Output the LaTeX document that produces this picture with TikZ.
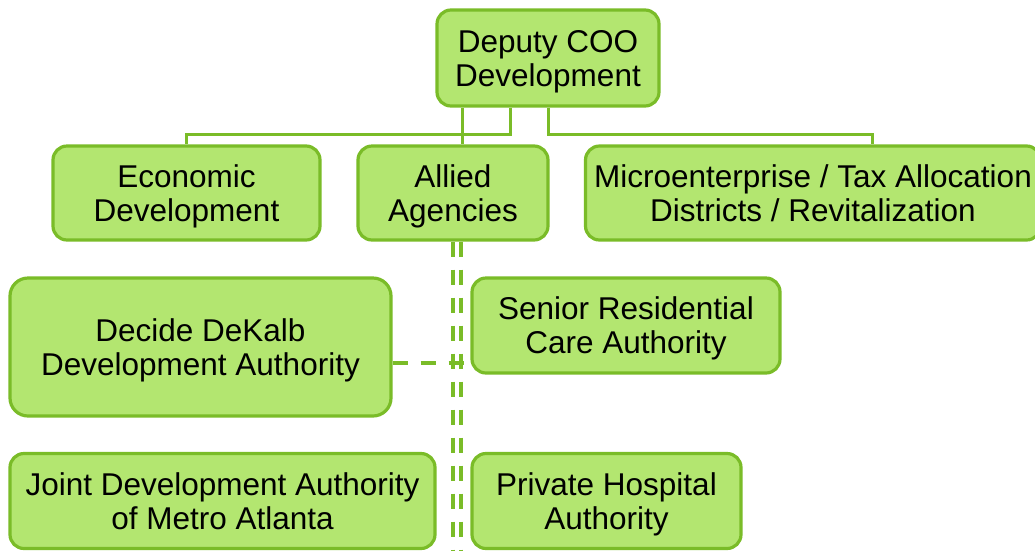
\documentclass[tikz,border=0pt]{standalone}
\usepackage{fontspec}
\setmainfont{Liberation Sans}
\definecolor{boxfill}{RGB}{179,230,112}
\definecolor{boxline}{RGB}{122,188,40}
\begin{document}
\begin{tikzpicture}[x=1pt,y=-1pt,
  orgbox/.style={draw=boxline, fill=boxfill, line width=3.2pt, rounded corners=14pt,
    align=center, inner sep=0pt, text depth=0pt, font=\fontsize{31.5}{34}\selectfont},
  link/.style={draw=boxline, line width=3pt},
  dlink/.style={draw=boxline, line width=3.5pt, dash pattern=on 15pt off 13pt}]
\useasboundingbox (0,0) rectangle (1035,550);
\begin{scope}
\clip (0,0) rectangle (1035,550);
\node[orgbox, minimum width=222pt, minimum height=96pt] (dep) at (548,58) {Deputy COO\\Development};
\node[orgbox, minimum width=267pt, minimum height=94pt] (econ) at (186.5,193) {Economic\\Development};
\node[orgbox, minimum width=190pt, minimum height=94pt] (allied) at (453,193) {Allied\\Agencies};
\node[orgbox, minimum width=455pt, minimum height=94pt] (micro) at (813,193) {Microenterprise / Tax Allocation\\Districts / Revitalization};
\node[orgbox, rounded corners=18pt, minimum width=381pt, minimum height=138pt] (decide) at (200.5,347) {Decide DeKalb\\Development Authority};
\node[orgbox, minimum width=308pt, minimum height=95pt] (senior) at (626,325.5) {Senior Residential\\Care Authority};
\node[orgbox, minimum width=425pt, minimum height=95pt] (joint) at (222.5,501) {Joint Development Authority\\of Metro Atlanta};
\node[orgbox, minimum width=269pt, minimum height=95pt] (private) at (606.5,501) {Private Hospital\\Authority};
\coordinate (bot1) at (453,560);
\coordinate (bot2) at (461,560);
% solid connectors
\draw[link] ([xshift=-38pt]dep.south) -- ++(0,27) -| (econ.north);
\draw[link] ([xshift=-86pt]dep.south) -- ([xshift=9pt]allied.north);
\draw[link] (dep.south) -- ++(0,27) -| ([xshift=59pt]micro.north);
% dashed connectors
\draw[dlink] (allied.south) -- (allied.south |- bot1);
\draw[dlink] ([xshift=8pt]allied.south) -- ([xshift=8pt]allied.south |- bot2);
\draw[dlink] ([yshift=-16pt]decide.east) -- ([yshift=-16pt]decide.east -| senior.west);
\end{scope}
\end{tikzpicture}
\end{document}
